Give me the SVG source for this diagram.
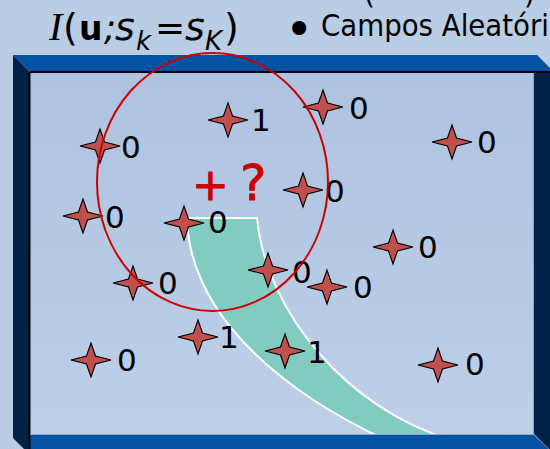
<svg xmlns="http://www.w3.org/2000/svg" xmlns:xlink="http://www.w3.org/1999/xlink" width="550" height="449" viewBox="0 0 550 449">
<defs>
<linearGradient id="pg" x1="0" y1="0" x2="0" y2="1">
<stop offset="0" stop-color="#AEC3E0"/>
<stop offset="1" stop-color="#BED0E8"/>
</linearGradient>
<path id="star" d="M-20,0 L-4.5,-4 L0,-17 L4.5,-4 L20,0 L4.5,4 L0,17 L-4.5,4 Z"/>
<style>
.st{fill:#C0504D;stroke:#000;stroke-width:1.1}
.lb{font-family:"DejaVu Sans",sans-serif;font-size:31px;fill:#000}
.tt{font-family:"DejaVu Sans",sans-serif;fill:#000}
.blue{fill:#0352A4}
.navy{fill:#022248}
</style>
</defs>
<rect x="0" y="0" width="550" height="449" fill="#B9CDE5"/>
<rect x="30" y="72" width="504" height="363" fill="url(#pg)"/>
<path d="M187,218 L257,218 C266,312 348,410 452,440 L386,440 C300,400 190,325 187,218 Z" fill="#82CBC1" stroke="#FFFFFF" stroke-width="2"/>
<g id="frame">
<polygon class="blue" points="13,55 537,55 554,72 30,72"/>
<polygon class="navy" points="13,55 30,72 30,455 13,438"/>
<polygon class="navy" points="534,72 560,72 560,460 534,434"/>
<polygon class="blue" points="30,435 534,435 560,460 30,460"/>
<line x1="30" y1="72" x2="550" y2="72" stroke="#000" stroke-width="2"/>
<line x1="29.5" y1="72" x2="29.5" y2="449" stroke="#000" stroke-width="2"/>
<line x1="533.5" y1="73" x2="533.5" y2="435" stroke="#8FA6C6" stroke-width="1"/>
<line x1="30" y1="434.5" x2="534" y2="434.5" stroke="#8FA6C6" stroke-width="1"/>
</g>
<g id="s1"><use xlink:href="#star" class="st" x="100" y="146"/><text class="lb" x="121" y="158">0</text></g>
<g id="s2"><use xlink:href="#star" class="st" x="228" y="120"/><text class="lb" x="251" y="131">1</text></g>
<g id="s3"><use xlink:href="#star" class="st" x="323" y="107"/><text class="lb" x="349" y="119">0</text></g>
<g id="s4"><use xlink:href="#star" class="st" x="452" y="142"/><text class="lb" x="477" y="153">0</text></g>
<g id="s5"><use xlink:href="#star" class="st" x="83" y="216"/><text class="lb" x="105" y="228">0</text></g>
<g id="s6"><use xlink:href="#star" class="st" x="184" y="223"/><text class="lb" x="208" y="233">0</text></g>
<g id="s7"><use xlink:href="#star" class="st" x="303" y="190"/><text class="lb" x="325" y="202">0</text></g>
<g id="s8"><use xlink:href="#star" class="st" x="393" y="247"/><text class="lb" x="418" y="258">0</text></g>
<g id="s9"><use xlink:href="#star" class="st" x="268" y="270"/><text class="lb" x="292" y="283">0</text></g>
<g id="s10"><use xlink:href="#star" class="st" x="133" y="283"/><text class="lb" x="158" y="294">0</text></g>
<g id="s11"><use xlink:href="#star" class="st" x="327" y="287"/><text class="lb" x="353" y="298">0</text></g>
<g id="s12"><use xlink:href="#star" class="st" x="198" y="337"/><text class="lb" x="219" y="348">1</text></g>
<g id="s13"><use xlink:href="#star" class="st" x="285" y="351"/><text class="lb" x="307" y="363">1</text></g>
<g id="s14"><use xlink:href="#star" class="st" x="91" y="360"/><text class="lb" x="117" y="371">0</text></g>
<g id="s15"><use xlink:href="#star" class="st" x="438" y="365"/><text class="lb" x="465" y="375">0</text></g>
<g id="neighborhood">
<ellipse cx="212.5" cy="182" rx="115.5" ry="129" fill="none" stroke="#CC0000" stroke-width="2"/>
<text x="0" y="200" font-family="DejaVu Sans,sans-serif" fill="#CC0000" stroke="#CC0000" stroke-width="0.8"><tspan x="192" font-size="44">+</tspan><tspan x="240" font-size="50">?</tspan></text>
</g>
<g id="title">
<text class="tt" x="364" y="4" font-size="28">(</text>
<text class="tt" x="524" y="4" font-size="28">)</text>
<text y="40" class="tt" font-size="36"><tspan x="49" font-family="Liberation Serif,serif" font-style="italic" font-size="40">I</tspan><tspan x="63" font-size="38">(</tspan><tspan x="79" font-weight="bold" font-size="33">u</tspan><tspan x="104" font-style="italic">;</tspan><tspan x="115" font-style="italic" font-size="38">s</tspan><tspan x="136" y="50" font-style="italic" font-size="26">k</tspan><tspan x="155" y="40">=</tspan><tspan x="185" font-style="italic" font-size="38">s</tspan><tspan x="205" y="50" font-style="italic" font-size="26">K</tspan><tspan x="224" y="40" font-size="38">)</tspan></text>
<text class="tt" x="285" y="46" font-size="48">•</text>
<text class="tt" x="321" y="36" font-size="30" textLength="228" lengthAdjust="spacingAndGlyphs">Campos Aleatóri</text>
</g>
</svg>
